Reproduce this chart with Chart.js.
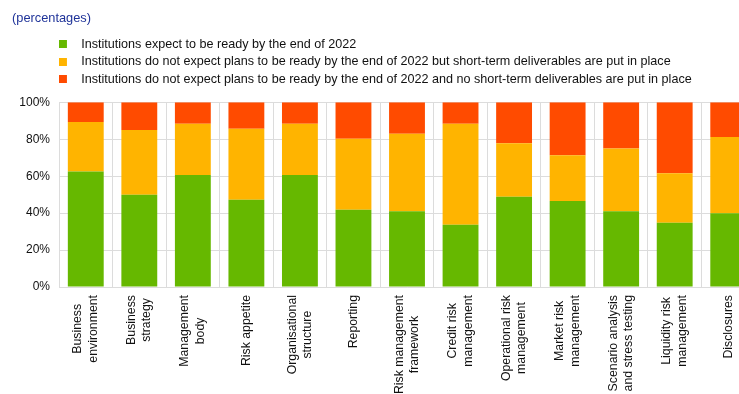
<!DOCTYPE html>
<html>
<head>
<meta charset="utf-8">
<script src="https://cdn.jsdelivr.net/npm/chart.js@4.4.1/dist/chart.umd.min.js"></script>
<style>
  html, body { margin: 0; padding: 0; background: #fff; overflow: hidden; }
  #wrap { width: 760px; height: 400px; position: relative; }
</style>
</head>
<body>
<div id="wrap"><canvas id="chart"></canvas></div>
<script>
// ---- Data ----
const categories = [
  ["Business", "environment"],
  ["Business", "strategy"],
  ["Management", "body"],
  "Risk appetite",
  ["Organisational", "structure"],
  "Reporting",
  ["Risk management", "framework"],
  ["Credit risk", "management"],
  ["Operational risk", "management"],
  ["Market risk", "management"],
  ["Scenario analysis", "and stress testing"],
  ["Liquidity risk", "management"],
  "Disclosures"
];

const readyBy2022 = [62.5, 50.0, 60.7, 47.3, 60.7, 41.8, 41.0, 33.7, 48.9, 46.6, 41.0, 34.8, 40.0];
const withDeliverables = [26.8, 35.0, 27.7, 38.4, 27.7, 38.5, 42.0, 54.7, 29.0, 24.8, 34.0, 26.8, 41.2];
const noDeliverables = [10.7, 15.0, 11.6, 14.3, 11.6, 19.7, 17.0, 11.6, 22.1, 28.6, 25.0, 38.4, 18.8];

const seriesLabels = [
  "Institutions expect to be ready by the end of 2022",
  "Institutions do not expect plans to be ready by the end of 2022 but short-term deliverables are put in place",
  "Institutions do not expect plans to be ready by the end of 2022 and no short-term deliverables are put in place"
];

const yTicks = [0, 20, 40, 60, 80, 100];

// ---- Styling ----
const GREEN = "#66b800";
const AMBER = "#ffb400";
const RED = "#ff4b00";
const GRID = "#dcdcdc";
const TEXT = "#111";
const FONT = "'Liberation Sans', Arial, sans-serif";
const X_FONT_SIZE = 12.3;
const X_LINE_H = 15.5;

// small square with empty space to its right, used as legend marker
function swatch(color) {
  const c = document.createElement("canvas");
  c.width = 16;
  c.height = 8;
  const g = c.getContext("2d");
  g.fillStyle = color;
  g.fillRect(0, 0, 8, 8);
  return c;
}

// nudge the legend to the right and up, under the title
const legendShift = {
  id: "legendShift",
  afterLayout(chart) {
    const lg = chart.legend;
    if (!lg) return;
    lg.left = 54;
    lg.top -= 7;
  }
};

// vertical category labels, lines centred on each other
const xLabels = {
  id: "xLabels",
  afterDraw(chart) {
    const sc = chart.scales.x;
    const c = chart.ctx;
    c.save();
    c.font = X_FONT_SIZE + "px " + FONT;
    c.fillStyle = TEXT;
    c.textAlign = "center";
    c.textBaseline = "middle";
    categories.forEach((lab, i) => {
      const lines = [].concat(lab);
      const w = Math.max(...lines.map(l => c.measureText(l).width));
      const x = sc.getPixelForValue(i);
      const y = sc.top + 8 + w / 2;
      c.save();
      c.translate(x, y);
      c.rotate(-Math.PI / 2);
      lines.forEach((l, k) => c.fillText(l, 0, (k - (lines.length - 1) / 2) * X_LINE_H));
      c.restore();
    });
    c.restore();
  }
};

const ctx = document.getElementById("chart").getContext("2d");
new Chart(ctx, {
  type: "bar",
  data: {
    labels: categories,
    datasets: [
      { label: seriesLabels[0], data: readyBy2022, backgroundColor: GREEN },
      { label: seriesLabels[1], data: withDeliverables, backgroundColor: AMBER },
      { label: seriesLabels[2], data: noDeliverables, backgroundColor: RED }
    ]
  },
  options: {
    responsive: true,
    maintainAspectRatio: false,
    animation: false,
    layout: { padding: { left: 12, right: 5, top: 0, bottom: 0 } },
    datasets: {
      bar: { categoryPercentage: 1, barPercentage: 0.67 }
    },
    plugins: {
      title: {
        display: true,
        text: "(percentages)",
        align: "start",
        color: "#1f3399",
        font: { family: FONT, size: 12.8, weight: "normal" },
        padding: { top: 10.5, bottom: 14 }
      },
      legend: {
        position: "top",
        align: "start",
        labels: {
          color: TEXT,
          font: { family: FONT, size: 12.6 },
          padding: 4.9,
          usePointStyle: true,
          pointStyleWidth: 16,
          generateLabels(chart) {
            const items = Chart.defaults.plugins.legend.labels.generateLabels(chart);
            const colors = [GREEN, AMBER, RED];
            items.forEach((it, i) => { it.pointStyle = swatch(colors[i]); });
            return items;
          }
        }
      },
      tooltip: { enabled: false }
    },
    scales: {
      x: {
        stacked: true,
        grid: { color: GRID, drawTicks: false, offset: true },
        border: { color: GRID },
        ticks: { display: false },
        afterFit(scale) { scale.height = 113; }
      },
      y: {
        stacked: true,
        min: 0,
        max: 100,
        afterBuildTicks(scale) { scale.ticks = yTicks.map(v => ({ value: v })); },
        grid: { color: GRID, drawTicks: false },
        border: { color: GRID },
        ticks: {
          color: TEXT,
          font: { family: FONT, size: 12 },
          padding: 9,
          callback: v => v + "%"
        },
        afterFit(scale) { scale.width = 47; }
      }
    }
  },
  plugins: [legendShift, xLabels]
});
</script>
</body>
</html>
